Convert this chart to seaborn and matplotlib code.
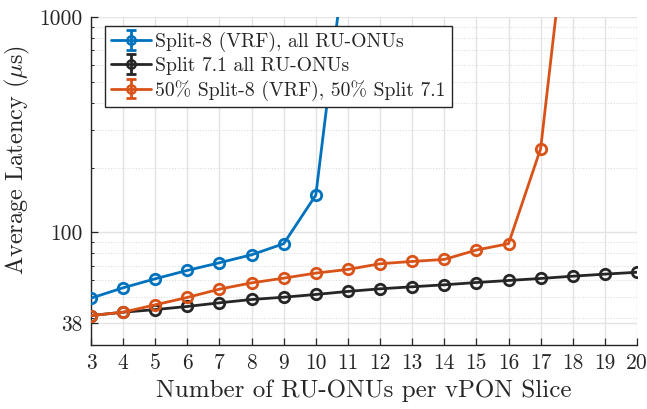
import numpy as np
import pandas as pd
import matplotlib
matplotlib.use("Agg")
import matplotlib.pyplot as plt
import seaborn as sns
from matplotlib.lines import Line2D
from matplotlib.collections import LineCollection
from matplotlib.container import ErrorbarContainer
from matplotlib.ticker import LogLocator, NullFormatter, FixedLocator, FixedFormatter

# RU-ONUs per vPON slice
ru_onus = list(range(3, 21))

# Average latency (us) per configuration
split8_all = [49.5, 55.3, 60.9, 66.6, 72.3, 78.7, 88.6, 149, 2450]
split71_all = [41.1, 42.6, 43.8, 45.3, 47.1, 48.8, 50.0, 51.5, 53.2, 54.7,
               55.9, 57.1, 58.5, 59.8, 61.1, 62.6, 64.0, 65.3]
mixed_50_50 = [41.1, 42.6, 46.1, 49.9, 54.5, 58.3, 61.3, 64.7, 67.3, 71.5,
               73.3, 74.9, 82.8, 88.6, 245, 4880]

series_names = ["Split-8 (VRF), all RU-ONUs",
                "Split 7.1 all RU-ONUs",
                "50% Split-8 (VRF), 50% Split 7.1"]
series_values = [split8_all, split71_all, mixed_50_50]
series_colors = ["#0072BD", "#262626", "#D95319"]

y_ticks = [38, 100, 1000]
y_tick_labels = ["38", "100", "1000"]

sns.set_theme(style="white")
plt.rcParams["font.family"] = ["cmr10", "DejaVu Serif"]
plt.rcParams["mathtext.fontset"] = "cm"
plt.rcParams["axes.formatter.use_mathtext"] = True

frames = []
for name, vals in zip(series_names, series_values):
    frames.append(pd.DataFrame({"n": ru_onus[:len(vals)], "latency": vals,
                                "config": name}))
df = pd.concat(frames, ignore_index=True)

fig = plt.figure(figsize=(6.47, 4.09), dpi=100)
ax = fig.add_axes([91 / 647, 1 - 345 / 409, (637 - 91) / 647, (345 - 17) / 409])

sns.lineplot(data=df, x="n", y="latency", hue="config", hue_order=series_names,
             palette=series_colors, marker="o", markersize=7.5,
             markerfacecolor="none", markeredgewidth=2.0, linewidth=2.0,
             ax=ax, legend=False, zorder=3)
for ln, c in zip(ax.get_lines(), series_colors):
    ln.set_markeredgecolor(c)
    ln.set_clip_on(True)

ax.set_yscale("log")
ax.set_xlim(3, 20)
ax.set_ylim(30, 1000)
ax.set_xticks(ru_onus)
ax.set_xticklabels([str(v) for v in ru_onus])
ax.yaxis.set_major_locator(FixedLocator(y_ticks))
ax.yaxis.set_major_formatter(FixedFormatter(y_tick_labels))
ax.yaxis.set_minor_locator(LogLocator(base=10, subs=np.arange(2, 10)))
ax.yaxis.set_minor_formatter(NullFormatter())

ax.grid(True, which="major", color="#e3e3e3", linewidth=1.0, linestyle="-")
ax.grid(True, which="minor", axis="y", color="#dcdcdc", linewidth=0.8,
        linestyle=(0, (1, 1.5)))
ax.set_axisbelow(True)

for s in ["top", "right"]:
    ax.spines[s].set_visible(False)
for s in ["left", "bottom"]:
    ax.spines[s].set_color("#262626")
    ax.spines[s].set_linewidth(1.0)

ax.tick_params(axis="both", which="major", direction="in", length=5,
               width=0.9, color="#262626", labelsize=15.5, labelcolor="#262626",
               left=True, bottom=True, pad=6)
ax.tick_params(axis="y", which="minor", direction="in", length=2.5,
               width=0.7, color="#262626", left=True)

ax.set_xlabel("Number of RU-ONUs per vPON Slice", fontsize=18,
              color="#262626", labelpad=5)
ax.set_ylabel(r"Average Latency ($\mu$s)", fontsize=17.5, color="#262626")
ax.yaxis.set_label_coords(-0.108, 0.565)

# Legend entries drawn as errorbar glyphs
handles = []
for c in series_colors:
    data_line = Line2D([], [], color=c, linewidth=2.0, marker="o",
                       markersize=6, markerfacecolor="none",
                       markeredgecolor=c, markeredgewidth=1.8)
    cap = Line2D([], [], color=c, linestyle="none", marker="_",
                 markersize=7, markeredgewidth=2.0)
    bars = LineCollection([], colors=[c], linewidths=2.0)
    handles.append(ErrorbarContainer((data_line, (cap, cap), (bars,)),
                                     has_xerr=False, has_yerr=True))

leg = ax.legend(handles, series_names, loc="upper left",
                bbox_to_anchor=(0.026, 0.973), fontsize=14.2,
                frameon=True, fancybox=False, edgecolor="#262626",
                framealpha=1.0, borderpad=0.3, labelspacing=0.25,
                handlelength=2.0, handletextpad=0.25, borderaxespad=0.0)
leg.get_frame().set_linewidth(1.0)

fig.savefig("out.png", dpi=100)
